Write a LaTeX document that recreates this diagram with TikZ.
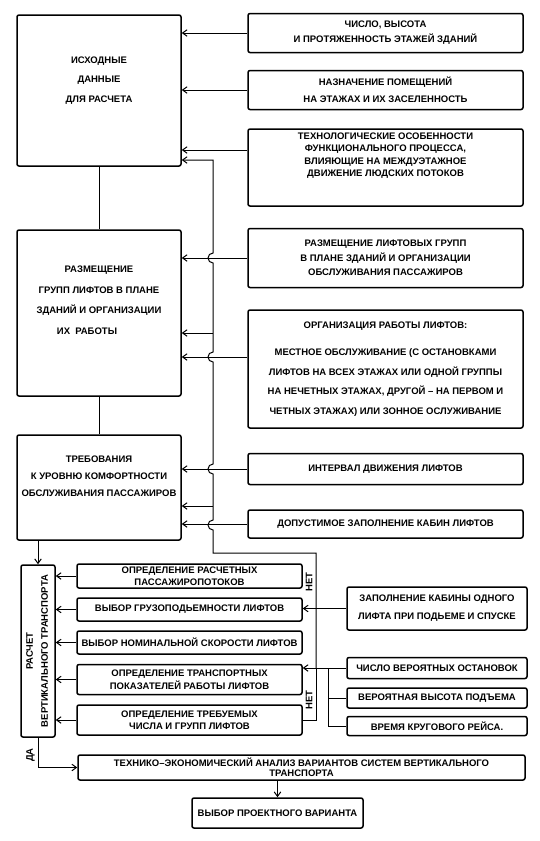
\documentclass[tikz,border=0pt]{standalone}
\usepackage{fontspec}
\setmainfont{Liberation Sans}
\usepackage{graphicx}
\usetikzlibrary{arrows.meta,positioning,calc}

\begin{document}
\begin{tikzpicture}[
    x=1pt, y=-1pt,
    box/.style={rectangle, draw, line width=1.5pt, rounded corners=2pt, align=center, inner sep=1pt, font=\bfseries\fontsize{9.5}{12}\selectfont},
    bigbox/.style={box, minimum width=164pt},
    rbox/.style={box, minimum width=275pt},
    lbox/.style={box, minimum width=225pt},
    sbox/.style={box, minimum width=180pt},
    lsp/.style={font=\bfseries\fontsize{9.5}{#1}\selectfont},
    txt/.style={align=center, font=\bfseries\fontsize{9.5}{12}\selectfont},
    line/.style={line width=1pt},
    arrow/.style={line, -{Straight Barb[length=4.5pt,width=6.5pt]}}
]
\useasboundingbox (0,0) rectangle (540,841);

% Left column
\node[bigbox, minimum height=151pt, label={[txt, lsp=19.5, yshift=10pt]center:{ИСХОДНЫЕ\\ДАННЫЕ\\ДЛЯ РАСЧЕТА}}] (ishod) at (99,90.5) {};
\node[bigbox, minimum height=166pt, label={[txt, lsp=20.5, yshift=13pt]center:{РАЗМЕЩЕНИЕ\\ГРУПП ЛИФТОВ В ПЛАНЕ\\ЗДАНИЙ И ОРГАНИЗАЦИИ\\ИХ~~РАБОТЫ\hspace*{24pt}}}] (razm) at (99,313) {};
\node[bigbox, minimum height=105pt, label={[txt, lsp=17, yshift=11pt]center:{ТРЕБОВАНИЯ\\К УРОВНЮ КОМФОРТНОСТИ\\ОБСЛУЖИВАНИЯ ПАССАЖИРОВ}}] (treb) at (99,487.5) {};

% Right column
\node[rbox, minimum height=39pt, lsp=15] (chislo) at (385.5,33) {ЧИСЛО, ВЫСОТА\\И ПРОТЯЖЕННОСТЬ ЭТАЖЕЙ ЗДАНИЙ};
\node[rbox, minimum height=39pt, lsp=17] (naznach) at (385.5,90) {НАЗНАЧЕНИЕ ПОМЕЩЕНИЙ\\НА ЭТАЖАХ И ИХ ЗАСЕЛЕННОСТЬ};
\node[rbox, minimum height=77pt, label={[txt, lsp=12.5, yshift=12pt]center:{ТЕХНОЛОГИЧЕСКИЕ ОСОБЕННОСТИ\\ФУНКЦИОНАЛЬНОГО ПРОЦЕССА,\\ВЛИЯЮЩИЕ НА МЕЖДУЭТАЖНОЕ\\ДВИЖЕНИЕ ЛЮДСКИХ ПОТОКОВ}}] (tehn) at (385.5,167.5) {};
\node[rbox, minimum height=59pt, lsp=14.5] (liftgr) at (385.5,258) {РАЗМЕЩЕНИЕ ЛИФТОВЫХ ГРУПП\\В ПЛАНЕ ЗДАНИЙ И ОРГАНИЗАЦИИ\\ОБСЛУЖИВАНИЯ ПАССАЖИРОВ};
\node[rbox, minimum height=118pt, lsp=19.5] (organiz) at (385.5,369) {ОРГАНИЗАЦИЯ РАБОТЫ ЛИФТОВ:\\[7.5pt]МЕСТНОЕ ОБСЛУЖИВАНИЕ (С ОСТАНОВКАМИ\\ЛИФТОВ НА ВСЕХ ЭТАЖАХ ИЛИ ОДНОЙ ГРУППЫ\\НА НЕЧЕТНЫХ ЭТАЖАХ, ДРУГОЙ – НА ПЕРВОМ И\\ЧЕТНЫХ ЭТАЖАХ) ИЛИ ЗОННОЕ ОСЛУЖИВАНИЕ};
\node[rbox, minimum height=31pt] (interval) at (385.5,469) {ИНТЕРВАЛ ДВИЖЕНИЯ ЛИФТОВ};
\node[rbox, minimum height=28pt] (dopust) at (385.5,524) {ДОПУСТИМОЕ ЗАПОЛНЕНИЕ КАБИН ЛИФТОВ};

% Calculation block
\node[box, minimum width=34pt, minimum height=172pt] (raschet) at (38,651) {\rotatebox{90}{\begin{tabular}{@{}c@{}}РАСЧЕТ\\[3pt]ВЕРТИКАЛЬНОГО ТРАНСПОРТА\end{tabular}}};
\node[lbox, minimum height=24pt] (passpot) at (189.5,576) {ОПРЕДЕЛЕНИЕ РАСЧЕТНЫХ\\ПАССАЖИРОПОТОКОВ};
\node[lbox, minimum height=23pt] (gruz) at (189.5,609.5) {ВЫБОР ГРУЗОПОДЬЕМНОСТИ ЛИФТОВ};
\node[lbox, minimum height=23pt] (skor) at (189.5,642.5) {ВЫБОР НОМИНАЛЬНОЙ СКОРОСТИ ЛИФТОВ};
\node[lbox, minimum height=30pt, lsp=13] (transp) at (189.5,679.5) {ОПРЕДЕЛЕНИЕ ТРАНСПОРТНЫХ\\ПОКАЗАТЕЛЕЙ РАБОТЫ ЛИФТОВ};
\node[lbox, minimum height=30pt] (chislolift) at (189.5,720) {ОПРЕДЕЛЕНИЕ ТРЕБУЕМЫХ\\ЧИСЛА И ГРУПП ЛИФТОВ};

% Input boxes of the calculation
\node[sbox, minimum height=43pt, lsp=18] (zapoln) at (437,608.5) {ЗАПОЛНЕНИЕ КАБИНЫ ОДНОГО\\ЛИФТА ПРИ ПОДЬЕМЕ И СПУСКЕ};
\node[sbox, minimum height=21pt] (ostan) at (437,668) {ЧИСЛО ВЕРОЯТНЫХ ОСТАНОВОК};
\node[sbox, minimum height=20pt] (vysota) at (437,698) {ВЕРОЯТНАЯ ВЫСОТА ПОДЪЕМА};
\node[sbox, minimum height=19pt] (vremya) at (437,726) {ВРЕМЯ КРУГОВОГО РЕЙСА.};

% Result
\node[box, minimum width=447pt, minimum height=25pt, lsp=10] (tech) at (301.5,767.5) {ТЕХНИКО--ЭКОНОМИЧЕСКИЙ АНАЛИЗ ВАРИАНТОВ СИСТЕМ ВЕРТИКАЛЬНОГО\\ТРАНСПОРТА};
\node[box, minimum width=171pt, minimum height=30pt] (vybor) at (277.5,813) {ВЫБОР ПРОЕКТНОГО ВАРИАНТА};

% Labels
\node[txt, rotate=90] (net1) at (309,582) {НЕТ};
\node[txt, rotate=90] (net2) at (309,700) {НЕТ};
\node[txt, rotate=90] (da) at (30.5,755) {ДА};

\coordinate (j) at (316,668);

% Arrows
\draw[line] (ishod.south) -- (razm.north);
\draw[line] (razm.south) -- (treb.north);
\draw[arrow] (chislo.west) -- (chislo.west -| ishod.east);
\draw[arrow] (naznach.west) -- (naznach.west -| ishod.east);
\draw[arrow] (tehn.west |- 0,150) -- (ishod.east |- 0,150);
\draw[arrow] (liftgr.west) -- (liftgr.west -| razm.east);
\draw[arrow] (organiz.west |- 0,357) -- (razm.east |- 0,357);
\draw[arrow] (interval.west) -- (interval.west -| treb.east);
\draw[arrow] (dopust.west) -- (dopust.west -| treb.east);

% Feedback line with bridges
\draw[arrow] (j) -- (316,553) -- (213,553) -- (213,530)
    arc[start angle=270, end angle=90, radius=5pt] -- (213,474)
    arc[start angle=270, end angle=90, radius=5pt] -- (213,362)
    arc[start angle=270, end angle=90, radius=5pt] -- (213,263)
    arc[start angle=270, end angle=90, radius=5pt] -- (213,160) -- (ishod.east |- 0,160);
\draw[arrow] (213,333) -- (razm.east |- 0,333);
\draw[arrow] (213,506) -- (treb.east |- 0,506);
\draw[line] (chislolift.east) -| (j);

\draw[arrow] (treb.south -| raschet.north) -- (raschet.north);
\foreach \b in {passpot,gruz,skor,transp,chislolift}
    \draw[arrow] (\b.west) -- (\b.west -| raschet.east);
\draw[arrow] (zapoln.west) -- (zapoln.west -| gruz.east);
\draw[arrow] (ostan.west) -- (ostan.west -| transp.east);
\draw[line] (vremya.west) -| (328,668);
\draw[line] (vysota.west) -- (vysota.west -| 328,0);
\draw[arrow] (raschet.south) |- (tech.west);
\draw[arrow] (tech.south -| vybor.north) -- (vybor.north);

\end{tikzpicture}
\end{document}
